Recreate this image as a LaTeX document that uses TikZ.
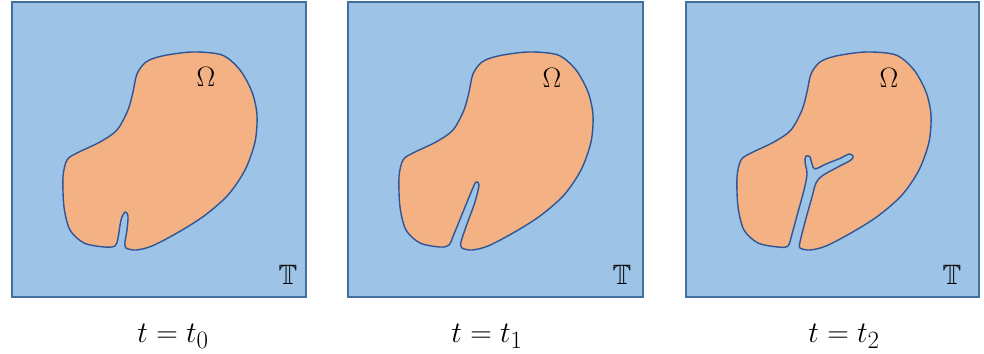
\documentclass[tikz,border=0pt]{standalone}
\usepackage{amssymb}
\usepackage{graphicx}
\newcommand{\bigsym}[1]{\scalebox{1.2}{$#1$}}
\newcommand{\biglab}[1]{\scalebox{1.35}{$#1$}}
\begin{document}
\begin{tikzpicture}[x=1pt,y=-1pt,
  panel/.style={fill=panelblue,draw=paneledge,line width=1.2pt},
  blob/.style={fill=blobfill,draw=blobedge,line width=1.4pt,line join=round},
  omega/.style={font=\fontsize{20.74}{24}\selectfont},
  torus/.style={font=\fontsize{20.74}{24}\selectfont},
  caplabel/.style={font=\fontsize{24.88}{28}\selectfont}]
\definecolor{panelblue}{HTML}{9DC3E6}
\definecolor{paneledge}{HTML}{41719C}
\definecolor{blobfill}{HTML}{F4B183}
\definecolor{blobedge}{HTML}{2F5597}
\useasboundingbox[fill=white] (0,0) rectangle (984,353);
% panel 1
\begin{scope}[shift={(12,2)}]
\draw[panel] (0,0) rectangle (294,295);
\filldraw[blob] plot[smooth cycle, tension=0.5] coordinates {(114,246) (124,248) (140,244) (165,231) (192,214) (216,193) (233,168) (243,140) (245,113) (240,90) (228,68) (210,53) (180,50) (150,54) (134,60) (125,72) (121,90) (116,108) (105,128) (88,140) (65,151) (55,158) (51,175) (52,205) (58,228) (72,241) (92,245) (103,244) (106,236) (109,218) (113,210) (116,214) (115,228) (113,240)};
\node[omega] (om1) at (194,75) {\biglab{\Omega}};
\node[torus] (T1) at (276,273) {\biglab{\mathbb{T}}};
\end{scope}
% panel 2
\begin{scope}[shift={(348,2)}]
\draw[panel] (0,0) rectangle (295,295);
\filldraw[blob] plot[smooth cycle, tension=0.5] coordinates {(114,246) (124,248) (140,244) (165,231) (192,214) (216,193) (233,168) (243,140) (245,113) (240,90) (228,68) (210,53) (180,50) (150,54) (134,60) (125,72) (121,90) (116,108) (105,128) (88,140) (65,151) (55,158) (51,175) (52,205) (58,228) (72,241) (92,245) (101,243) (106,232) (115,210) (124,188) (128,180) (131,183) (127,200) (119,222) (113,240)};
\node[omega] (om2) at (204,76) {\biglab{\Omega}};
\node[torus] (T2) at (274,273) {\biglab{\mathbb{T}}};
\end{scope}
% panel 3
\begin{scope}[shift={(686,2)}]
\draw[panel] (0,0) rectangle (293,295);
\filldraw[blob] plot[smooth cycle, tension=0.5] coordinates {(114,246) (124,248) (140,244) (165,231) (192,214) (216,193) (233,168) (243,140) (245,113) (240,90) (228,68) (210,53) (180,50) (150,54) (134,60) (125,72) (121,90) (116,108) (105,128) (88,140) (65,151) (55,158) (51,175) (52,205) (58,228) (72,241) (92,245) (102,244) (106,232) (112,210) (118,188) (121,172) (119,160) (120,154) (124,155) (126,162) (129,167) (140,162) (155,156) (163,152) (167,154) (165,158) (150,166) (136,174) (130,181) (126,195) (119,220) (114,240)};
\node[omega] (om3) at (203,76) {\biglab{\Omega}};
\node[torus] (T3) at (266,273) {\biglab{\mathbb{T}}};
\end{scope}
\node[caplabel] (c0) at (173,336) {\bigsym{t=t_0}};
\node[caplabel] (c1) at (487,336) {\bigsym{t=t_1}};
\node[caplabel] (c2) at (844,336) {\bigsym{t=t_2}};
\end{tikzpicture}
\end{document}
